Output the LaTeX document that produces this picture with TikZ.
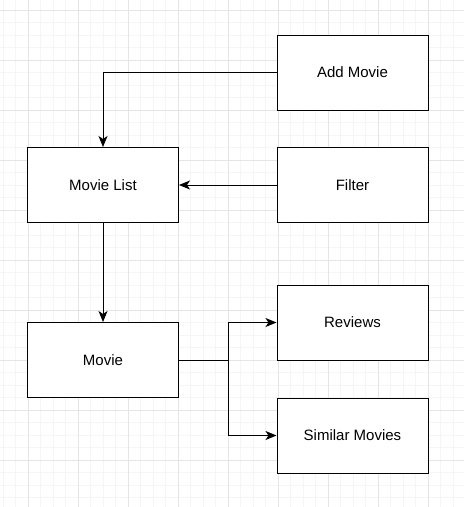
\documentclass[tikz,border=0pt]{standalone}
\usepackage{fontspec}
\setmainfont{Liberation Sans}
\usetikzlibrary{arrows.meta}

\begin{document}
\begin{tikzpicture}[x=1pt,y=-1pt,
    box_node/.style={rectangle,draw,line width=1pt,minimum width=151pt,minimum height=75pt,inner sep=0pt,font=\fontsize{15}{18}\selectfont},
    link/.style={line width=1pt,-{Stealth[length=11pt,width=9pt,inset=3pt]}},
    grid_minor/.style={line width=0.8pt,color=black!4},
    grid_major/.style={line width=0.8pt,color=black!10}]
    \useasboundingbox (0,0) rectangle (464,507);
    \fill[white] (0,0) rectangle (464,507);
    % background grid
    \begin{scope}
        \clip (0,0) rectangle (464,507);
        \foreach \gx in {3,15.5,...,470} \draw[grid_minor] (\gx,0) -- (\gx,507);
        \foreach \gy in {-2.5,10,...,510} \draw[grid_minor] (0,\gy) -- (464,\gy);
        \foreach \gx in {28,78,...,470} \draw[grid_major] (\gx,0) -- (\gx,507);
        \foreach \gy in {10,60,...,510} \draw[grid_major] (0,\gy) -- (464,\gy);
    \end{scope}

    \node[box_node,fill=white] (add) at (352.5, 72.5) {Add Movie};
    \node[box_node,fill=white] (list) at (103, 185) {Movie List};
    \node[box_node,fill=white] (filter) at (352.5, 185) {Filter};
    \node[box_node,fill=white] (movie) at (103, 360) {Movie};
    \node[box_node,fill=white] (reviews) at (352.5, 322.5) {Reviews};
    \node[box_node,fill=white] (similar) at (352.5, 435.5) {Similar Movies};
    \coordinate (split) at (228, 360);

    \draw[link] (add.west) -| (list.north);
    \draw[link] (filter.west) -- (list.east);
    \draw[link] (list.south) -- (movie.north);
    \draw[line width=1pt] (movie.east) -- (split);
    \draw[link] (split) |- (reviews.west);
    \draw[link] (split) |- (similar.west);
\end{tikzpicture}
\end{document}
